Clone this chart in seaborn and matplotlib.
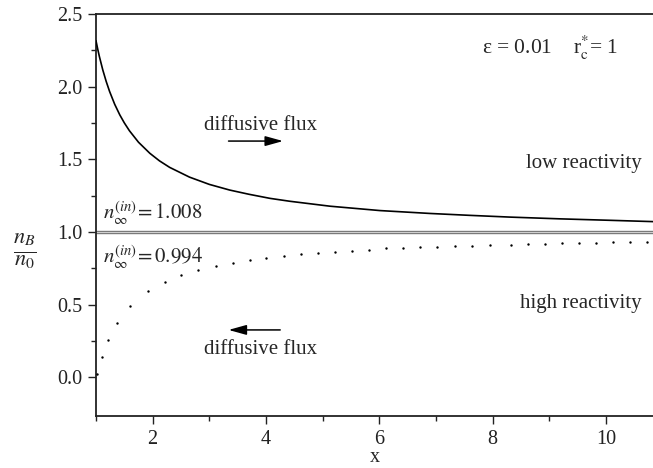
import matplotlib
matplotlib.use("Agg")
import matplotlib.pyplot as plt
import seaborn as sns
import numpy as np
import pandas as pd

# ---- data ----
x_low_reac = [1.0, 1.03, 1.06, 1.12, 1.18, 1.24, 1.33, 1.42, 1.5, 1.59, 1.75, 1.95,
              2.12, 2.30, 2.65, 3.0, 3.36, 3.7, 4.07, 4.42, 5.13, 6.01, 6.90, 7.60,
              8.31, 9.19, 10.07, 10.83]
y_low_reac = [2.316, 2.259, 2.207, 2.115, 2.036, 1.967, 1.879, 1.806, 1.751, 1.697,
              1.618, 1.542, 1.49, 1.445, 1.378, 1.328, 1.289, 1.26, 1.232, 1.212,
              1.178, 1.148, 1.128, 1.115, 1.103, 1.091, 1.081, 1.072]

x_high_reac = [1.016, 1.104, 1.217, 1.376, 1.606, 1.912, 2.212, 2.507, 2.80, 3.113,
               3.419, 3.714, 4.009, 4.31, 4.615, 4.915, 5.216, 5.516, 5.816, 6.116,
               6.416, 6.717, 7.017, 7.33, 7.63, 7.95, 8.32, 8.62, 8.92, 9.22, 9.53,
               9.83, 10.13, 10.43, 10.73]
y_high_reac = [0.024, 0.143, 0.258, 0.377, 0.494, 0.593, 0.659, 0.705, 0.739, 0.769,
               0.789, 0.808, 0.819, 0.835, 0.849, 0.858, 0.865, 0.872, 0.879, 0.888,
               0.890, 0.897, 0.900, 0.904, 0.906, 0.911, 0.913, 0.918, 0.920, 0.923,
               0.927, 0.927, 0.930, 0.932, 0.934]

n_inf_values = [1.008, 0.994]
n_inf_labels = [r"$n_{\infty}^{(in)}\!=1.008$", r"$n_{\infty}^{(in)}\!=0.994$"]
x_ticks_major = [2, 4, 6, 8, 10]
y_ticks_major = [0.0, 0.5, 1.0, 1.5, 2.0, 2.5]

sns.set_theme(style="ticks")
plt.rcParams["font.family"] = ["Liberation Serif", "DejaVu Serif"]
plt.rcParams["mathtext.fontset"] = "stix"

fig = plt.figure(figsize=(6.53, 4.68), dpi=100)
ax = fig.add_axes([96/653, 1-416/468, 1-96/653, (416-14)/468])

df_up = pd.DataFrame({"x": x_low_reac, "y": y_low_reac})
df_dn = pd.DataFrame({"x": x_high_reac, "y": y_high_reac})

for v in n_inf_values:
    ax.axhline(v, color="#7a7a7a", lw=1.0, zorder=1)

sns.lineplot(data=df_up, x="x", y="y", ax=ax, color="black", lw=1.2, zorder=3)
sns.scatterplot(data=df_dn, x="x", y="y", ax=ax, color="black", s=3,
                linewidth=0, zorder=3)

ax.set_xlim(1.0, 10.83)
ax.set_ylim(-0.265, 2.5)
ax.set_xticks(x_ticks_major)
ax.set_xticks([1, 3, 5, 7, 9], minor=True)
ax.set_yticks(y_ticks_major)
ax.set_yticks([0.25, 0.75, 1.25, 1.75, 2.25], minor=True)
ax.set_yticklabels([f"{v:.1f}" for v in y_ticks_major])
ax.tick_params(axis="both", which="major", length=6, width=1.0, labelsize=14.5,
               colors="#222222", direction="out")
ax.tick_params(axis="both", which="minor", length=3.5, width=1.0, direction="out",
               colors="#222222")
ax.tick_params(axis="x", pad=4)
ax.tick_params(axis="y", pad=4)
for s in ["left", "bottom", "top"]:
    ax.spines[s].set_linewidth(1.3)
    ax.spines[s].set_color("#222222")
ax.spines["right"].set_visible(False)

ax.set_xlabel("x", fontsize=14.5, labelpad=-1)
ax.set_ylabel("")
fig.text(25/653, 1-251/468, r"$\frac{n_B}{n_0}$", fontsize=23, ha="center",
         va="center")

ax.text(9.01, 2.27, r"ε = 0.01    r$_{\mathrm{c}}^{*}$= 1", fontsize=15.5,
        ha="center", va="center")
ax.text(1.12, n_inf_values[0] + 0.12, n_inf_labels[0], fontsize=15, ha="left",
        va="center")
ax.text(1.12, n_inf_values[1] - 0.17, n_inf_labels[1], fontsize=15, ha="left",
        va="center")
ax.text(9.61, 1.475, "low reactivity", fontsize=15, ha="center", va="center")
ax.text(9.56, 0.512, "high reactivity", fontsize=15, ha="center", va="center")

ax.text(3.9, 1.735, "diffusive flux", fontsize=15, ha="center", va="center")
ax.annotate("", xy=(4.35, 1.626), xytext=(3.29, 1.626),
            arrowprops=dict(arrowstyle="-|>,head_length=0.9,head_width=0.25",
                            color="black", lw=1.1))
ax.text(3.9, 0.19, "diffusive flux", fontsize=15, ha="center", va="center")
ax.annotate("", xy=(3.29, 0.327), xytext=(4.30, 0.327),
            arrowprops=dict(arrowstyle="-|>,head_length=0.9,head_width=0.25",
                            color="black", lw=1.1))

fig.savefig("out.png", dpi=100)
